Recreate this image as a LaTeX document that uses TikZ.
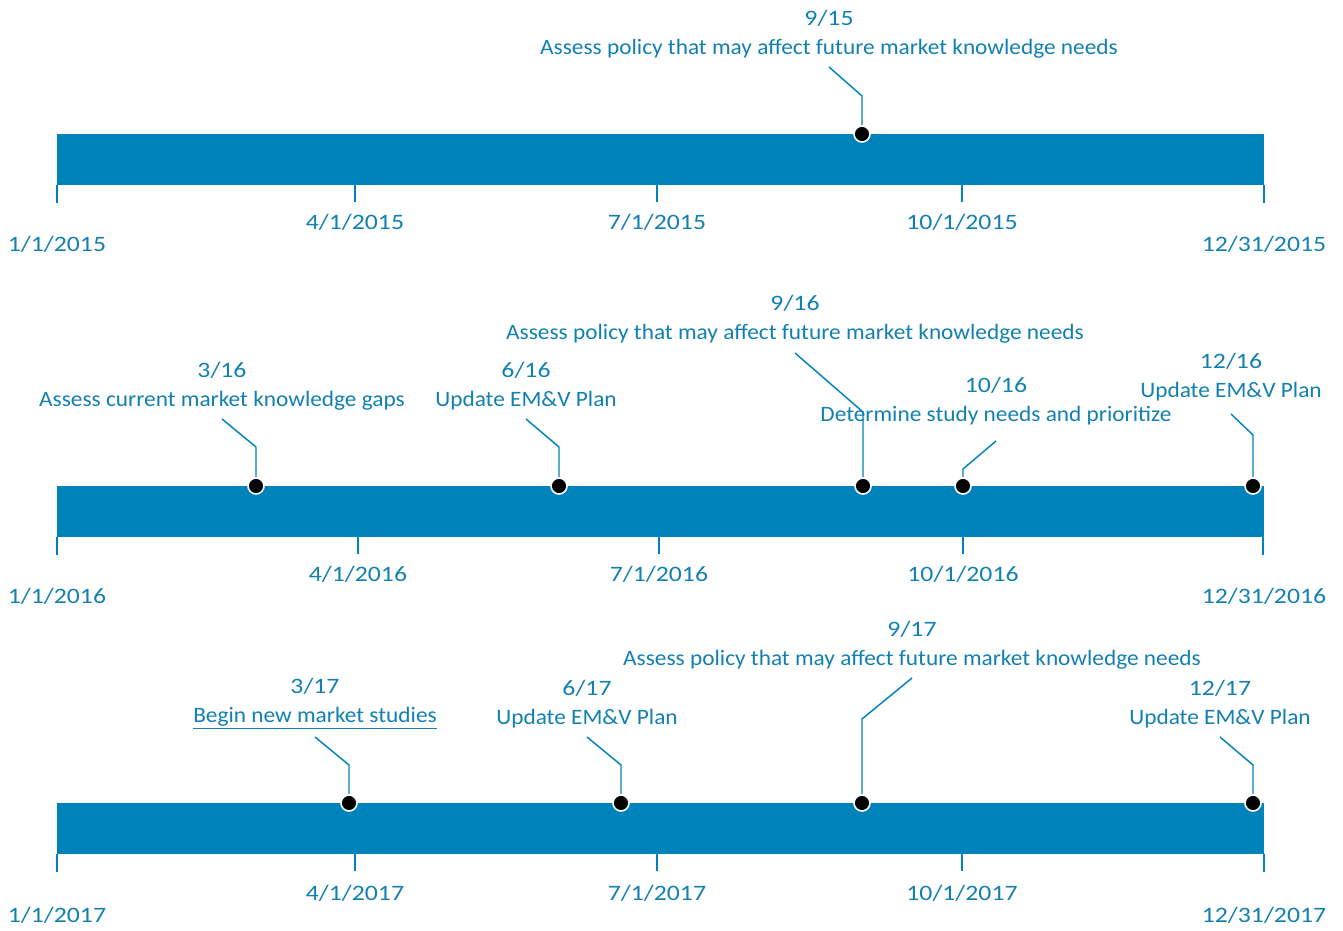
\documentclass[tikz,border=0pt]{standalone}
\usepackage{fontspec}
\setmainfont{Carlito}[FakeStretch=1.06]
\newfontfamily\datefont{Carlito}[FakeStretch=1.17]
\definecolor{barblue}{RGB}{0,131,186}
\definecolor{txtblue}{RGB}{18,128,176}
\newcommand{\evd}[1]{{\datefont #1}}
\tikzset{every picture/.style={line width=0.75pt}}
\tikzset{
	yearbar/.style={fill=barblue, draw=none},
	datetick/.style={draw=barblue, line width=1.1pt},
	datelbl/.style={text=txtblue, font=\datefont\fontsize{16.5}{19}\selectfont, inner sep=0pt},
	evtlbl/.style={text=txtblue, align=center, font=\fontsize{16.5}{21.75}\selectfont, inner sep=0pt},
	mdot/.style={circle, fill=black, draw=white, line width=1.2pt, minimum size=12pt, inner sep=0pt},
	leader/.style={draw=barblue, line width=1.1pt}}

\begin{document}
\begin{tikzpicture}[x=0.75pt,y=0.75pt,yscale=-1,xscale=1]
	\useasboundingbox (0,0) rectangle (1343,931);

	%% ---------------- 2015 ----------------
	%Shape: Bar
	\draw [yearbar] (57,134) rectangle (1264,185);
	%Ticks
	\draw [datetick] (57,185) -- (57,203) (355,185) -- (355,202) (657,185) -- (657,202) (962,185) -- (962,202) (1264,185) -- (1264,203);
	% Date Nodes
	\node [datelbl] (a15) at (57,244) {1/1/2015};
	\node [datelbl] (b15) at (355,222) {4/1/2015};
	\node [datelbl] (c15) at (657,222) {7/1/2015};
	\node [datelbl] (d15) at (962,222) {10/1/2015};
	\node [datelbl] (e15) at (1264,244) {12/31/2015};
	% Event 9/15
	\node [evtlbl] (t0915) at (829,34.5) {\evd{9/15}\\Assess policy that may affect future market knowledge needs};
	\coordinate (s0915) at (829,67);
	\coordinate (k0915) at (862,96);
	\node [mdot] (m0915) at (862,134) {};
	\draw [leader] (m0915) -- (k0915) -- (s0915);

	%% ---------------- 2016 ----------------
	%Shape: Bar
	\draw [yearbar] (57,486) rectangle (1264,537);
	%Ticks
	\draw [datetick] (57,537) -- (57,555) (358,537) -- (358,554) (659,537) -- (659,554) (963,537) -- (963,554) (1263,537) -- (1263,555);
	% Date Nodes
	\node [datelbl] (a16) at (57,596) {1/1/2016};
	\node [datelbl] (b16) at (358,574) {4/1/2016};
	\node [datelbl] (c16) at (659,574) {7/1/2016};
	\node [datelbl] (d16) at (963,574) {10/1/2016};
	\node [datelbl] (e16) at (1264,596) {12/31/2016};
	% Event 3/16
	\node [evtlbl] (t0316) at (222,386) {\evd{3/16}\\Assess current market knowledge gaps};
	\coordinate (s0316) at (222,419);
	\coordinate (k0316) at (256,447);
	\node [mdot] (m0316) at (256,486) {};
	\draw [leader] (m0316) -- (k0316) -- (s0316);
	% Event 6/16
	\node [evtlbl] (t0616) at (526,386) {\evd{6/16}\\Update EM\&V Plan};
	\coordinate (s0616) at (526,419);
	\coordinate (k0616) at (559,447);
	\node [mdot] (m0616) at (559,486) {};
	\draw [leader] (m0616) -- (k0616) -- (s0616);
	% Event 9/16
	\node [evtlbl] (t0916) at (795,319) {\evd{9/16}\\Assess policy that may affect future market knowledge needs};
	% Event 10/16
	\node [evtlbl] (t1016) at (996,401.5) {\evd{10/16}\\Determine study needs and prioritize};
	\coordinate (s1016) at (996,441);
	\coordinate (k1016) at (963,469);
	\node [mdot] (m1016) at (963,486) {};
	\draw [leader] (m1016) -- (k1016) -- (s1016);
	\coordinate (s0916) at (795,353);
	\coordinate (k0916) at (863,412);
	\node [mdot] (m0916) at (863,486) {};
	\draw [leader] (m0916) -- (k0916) -- (s0916);
	% Event 12/16
	\node [evtlbl] (t1216) at (1231,377.5) {\evd{12/16}\\Update EM\&V Plan};
	\coordinate (s1216) at (1231,414);
	\coordinate (k1216) at (1253,435);
	\node [mdot] (m1216) at (1253,486) {};
	\draw [leader] (m1216) -- (k1216) -- (s1216);

	%% ---------------- 2017 ----------------
	%Shape: Bar
	\draw [yearbar] (57,803) rectangle (1264,854);
	%Ticks
	\draw [datetick] (57,854) -- (57,872) (355,854) -- (355,871) (657,854) -- (657,871) (962,854) -- (962,871) (1264,854) -- (1264,872);
	% Date Nodes
	\node [datelbl] (a17) at (57,915) {1/1/2017};
	\node [datelbl] (b17) at (355,893) {4/1/2017};
	\node [datelbl] (c17) at (657,893) {7/1/2017};
	\node [datelbl] (d17) at (962,893) {10/1/2017};
	\node [datelbl] (e17) at (1264,915) {12/31/2017};
	% Event 3/17
	\node [evtlbl] (t0317) at (315,704) {\evd{3/17}\\\underline{Begin new market studies}};
	\coordinate (s0317) at (315,737);
	\coordinate (k0317) at (349,765);
	\node [mdot] (m0317) at (349,803) {};
	\draw [leader] (m0317) -- (k0317) -- (s0317);
	% Event 6/17
	\node [evtlbl] (t0617) at (587,704) {\evd{6/17}\\Update EM\&V Plan};
	\coordinate (s0617) at (587,737);
	\coordinate (k0617) at (621,765);
	\node [mdot] (m0617) at (621,803) {};
	\draw [leader] (m0617) -- (k0617) -- (s0617);
	% Event 9/17
	\node [evtlbl] (t0917) at (912,645.5) {\evd{9/17}\\Assess policy that may affect future market knowledge needs};
	\coordinate (s0917) at (912,678);
	\coordinate (k0917) at (862,719);
	\node [mdot] (m0917) at (862,803) {};
	\draw [leader] (m0917) -- (k0917) -- (s0917);
	% Event 12/17
	\node [evtlbl] (t1217) at (1220,704) {\evd{12/17}\\Update EM\&V Plan};
	\coordinate (s1217) at (1220,737);
	\coordinate (k1217) at (1253,765);
	\node [mdot] (m1217) at (1253,803) {};
	\draw [leader] (m1217) -- (k1217) -- (s1217);

\end{tikzpicture}
\end{document}
